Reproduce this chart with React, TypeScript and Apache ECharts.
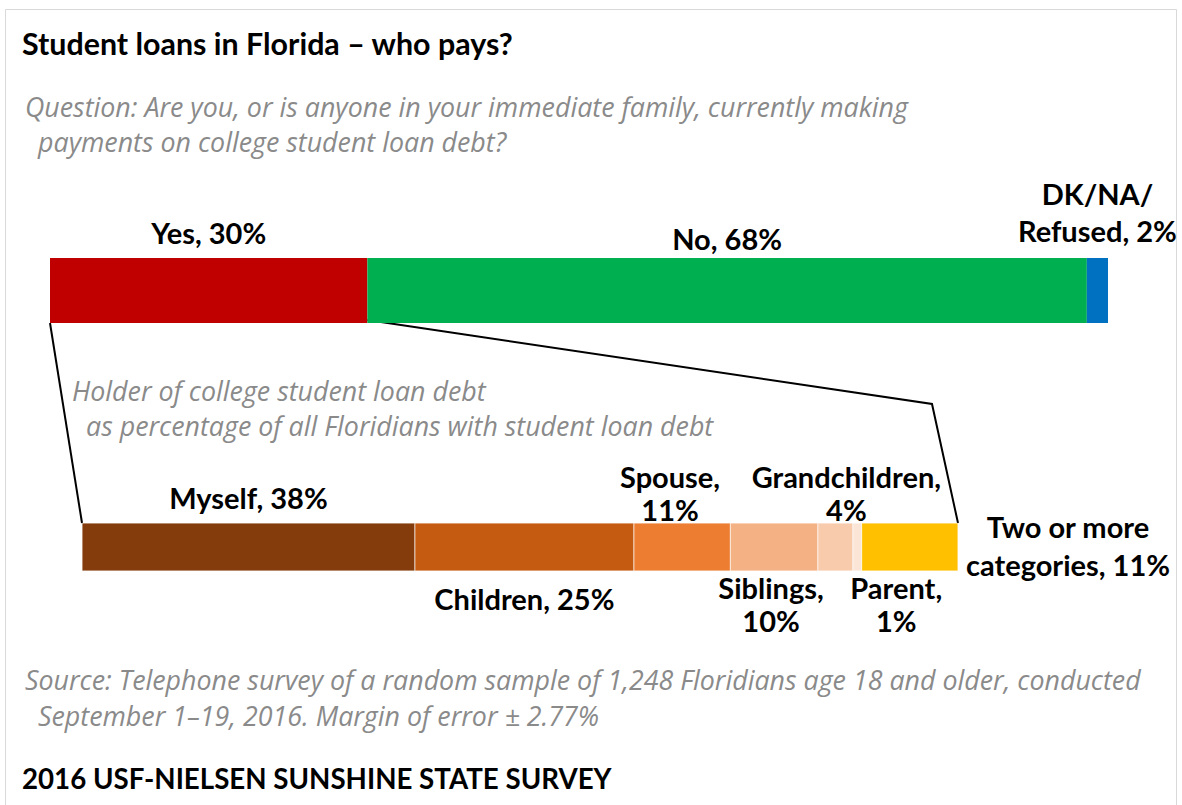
import React, { useEffect, useRef } from "react";
import * as echarts from "echarts";

const topCategories = ["Yes", "No", "DK/NA/\nRefused"];
const topValues = [30, 68, 2];
const topColors = ["#C00000", "#00B050", "#0070C0"];

const holderCategories = ["Myself", "Children", "Spouse", "Siblings", "Grandchildren", "Parent", "Two or more\ncategories"];
const holderValues = [38, 25, 11, 10, 4, 1, 11];
const holderColors = ["#843C0C", "#C55A11", "#ED7D31", "#F4B183", "#F8CBAD", "#FBE5D6", "#FFC000"];

const titleText = "Student loans in Florida \u2013 who pays?";
const questionLines = ["Question: Are you, or is anyone in your immediate family, currently making", "payments on college student loan debt?"];
const holderLines = ["Holder of college student loan debt", "as percentage of all Floridians with student loan debt"];
const sourceLines = ["Source: Telephone survey of a random sample of 1,248 Floridians age 18 and older, conducted", "September 1\u201319, 2016. Margin of error \u00b1 2.77%"];
const footerText = "2016 USF-NIELSEN SUNSHINE STATE SURVEY";

const BOLD_FONT = "Lato";
const ITALIC_FONT = "'Open Sans'";
const TOP_GRID = { left: 50, width: 1058, top: 258, height: 65 };
const BOT_GRID = { left: 82, width: 876, top: 523, height: 48 };

// label placement per segment (layout only)
const topLabelCfg = [
  { position: "top", distance: 9, offset: [0, 0], lineHeight: 34 },
  { position: "top", distance: 3, offset: [0, 0], lineHeight: 34 },
  { position: "top", distance: 9, offset: [0, 0], lineHeight: 37 },
];
const botLabelCfg = [
  { position: "top", distance: 9, offset: [0, 0], lineHeight: 34 },
  { position: "bottom", distance: 10, offset: [0, 0], lineHeight: 34 },
  { position: "top", distance: -3, offset: [-12, 0], lineHeight: 33 },
  { position: "bottom", distance: 0, offset: [-3, 0], lineHeight: 33 },
  { position: "top", distance: -3, offset: [11, 0], lineHeight: 33 },
  { position: "bottom", distance: 0, offset: [39, 0], lineHeight: 33 },
  { position: "right", distance: 110, offset: [0, -2], lineHeight: 38 },
];

function labelText(cat: string, v: number, multi: boolean) {
  if (cat.includes("\n")) return `${cat}, ${v}%`;
  return multi ? `${cat},\n${v}%` : `${cat}, ${v}%`;
}

export default function App() {
  const ref = useRef<HTMLDivElement>(null);
  useEffect(() => {
    if (!ref.current) return;
    const chart = echarts.init(ref.current, null, { renderer: "svg" });

    const labelStyle = { color: "#000", fontFamily: BOLD_FONT, fontWeight: "bold", fontSize: 29, align: "center" };
    const series: any[] = [];
    topCategories.forEach((c, i) => {
      const cfg = topLabelCfg[i];
      series.push({
        type: "bar",
        name: c,
        stack: "top",
        xAxisIndex: 0,
        yAxisIndex: 0,
        barWidth: "100%",
        data: [topValues[i]],
        itemStyle: { color: topColors[i] },
        label: {
          show: true,
          position: cfg.position,
          distance: cfg.distance,
          offset: cfg.offset,
          formatter: () => labelText(c, topValues[i], false),
          ...labelStyle,
          lineHeight: cfg.lineHeight,
        },
      });
    });
    holderCategories.forEach((c, i) => {
      const cfg: any = botLabelCfg[i];
      const multi = ["Spouse", "Siblings", "Grandchildren", "Parent"].includes(c);
      series.push({
        type: "bar",
        name: c,
        stack: "bottom",
        xAxisIndex: 1,
        yAxisIndex: 1,
        barWidth: "100%",
        data: [holderValues[i]],
        itemStyle: { color: holderColors[i], borderColor: "rgba(255,255,255,0.6)", borderWidth: 0.5 },
        label: {
          show: true,
          position: cfg.position,
          distance: cfg.distance,
          offset: cfg.offset,
          formatter: () => labelText(c, holderValues[i], multi),
          ...labelStyle,
          lineHeight: cfg.lineHeight,
        },
      });
    });

    const option: any = {
      animation: false,
      backgroundColor: "#fff",
      grid: [
        { ...TOP_GRID, containLabel: false },
        { ...BOT_GRID, containLabel: false },
      ],
      xAxis: [
        { type: "value", gridIndex: 0, min: 0, max: 100, show: false },
        { type: "value", gridIndex: 1, min: 0, max: 100, show: false },
      ],
      yAxis: [
        { type: "category", gridIndex: 0, data: ["All"], show: false },
        { type: "category", gridIndex: 1, data: ["Holders"], show: false },
      ],
      series,
    };
    chart.setOption(option);

    const topBottom = TOP_GRID.top + TOP_GRID.height;
    const botTop = BOT_GRID.top;
    const pTop0 = chart.convertToPixel({ xAxisIndex: 0, yAxisIndex: 0 } as any, [0, 0]) as number[];
    const pTopYes = chart.convertToPixel({ xAxisIndex: 0, yAxisIndex: 0 } as any, [topValues[0], 0]) as number[];
    const pBot0 = chart.convertToPixel({ xAxisIndex: 1, yAxisIndex: 1 } as any, [0, 0]) as number[];
    const pBotEnd = chart.convertToPixel({ xAxisIndex: 1, yAxisIndex: 1 } as any, [100, 0]) as number[];

    const gray = (text: string, x: number, y: number) => ({
      type: "text",
      x,
      y,
      style: { text, fill: "#8A8A8A", fontFamily: ITALIC_FONT, fontStyle: "italic", fontSize: 26.8, verticalAlign: "middle", align: "left" },
    });
    const bold = (text: string, x: number, y: number, size: number) => ({
      type: "text",
      x,
      y,
      style: { text, fill: "#000", fontFamily: BOLD_FONT, fontWeight: "bold", fontSize: size, verticalAlign: "middle", align: "left" },
    });

    chart.setOption({
      graphic: [
        { type: "rect", shape: { x: 5.5, y: 9.5, width: 1171, height: 820 }, style: { fill: "none", stroke: "#D9D9D9", lineWidth: 1 }, z: -1 },
        bold(titleText, 22, 43, 30.4),
        gray(questionLines[0], 25, 106),
        gray(questionLines[1], 38, 141),
        gray(holderLines[0], 72, 390),
        gray(holderLines[1], 86, 425),
        gray(sourceLines[0], 25, 679),
        gray(sourceLines[1], 38, 715),
        bold(footerText, 22, 778, 27.7),
        { type: "line", shape: { x1: pTop0[0], y1: topBottom, x2: pBot0[0], y2: botTop }, style: { stroke: "#000", lineWidth: 2 } },
        { type: "polyline", shape: { points: [[pTopYes[0], topBottom - 3], [932, 404], [pBotEnd[0], botTop]] }, style: { stroke: "#000", lineWidth: 2, fill: "none" } },
      ],
    });

    return () => chart.dispose();
  }, []);

  return <div ref={ref} style={{ position: "fixed", left: 0, top: 0, width: 1182, height: 805 }} />;
}
